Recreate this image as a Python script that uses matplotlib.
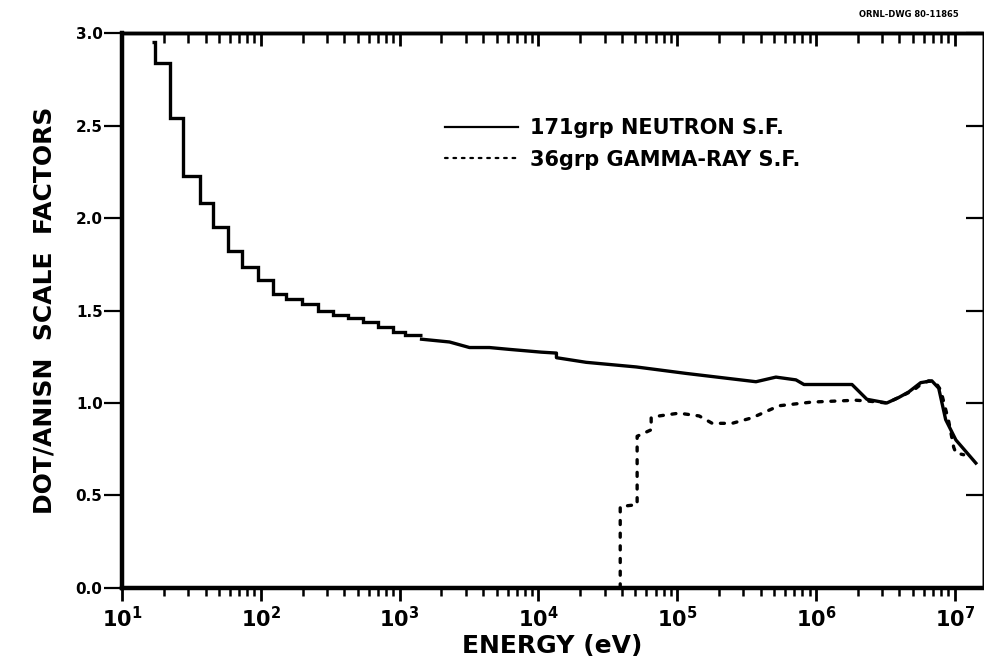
import matplotlib
matplotlib.use("Agg")
import matplotlib.pyplot as plt
from matplotlib.ticker import LogLocator, NullFormatter, FixedLocator

# ---- data ----
# 171-group neutron scale factors: step part (group edges, values)
n_step_edges = [16.4, 17.3, 22.1, 27.5, 36.4, 45.2, 57.9, 73.0, 95.1, 122, 151,
                197, 257, 330, 423, 542, 695, 891, 1087, 1440]
n_step_vals = [2.95, 2.84, 2.54, 2.23, 2.08, 1.95, 1.82, 1.735, 1.665, 1.59,
               1.56, 1.535, 1.50, 1.475, 1.46, 1.44, 1.41, 1.385, 1.37]
# neutron, fine-group part (energy, value)
n_energy = [1440, 2290, 3190, 4440, 6180, 1.05e4, 1.35e4, 1.35e4, 2.21e4, 5.07e4,
            1.16e5, 3.70e5, 5.15e5, 7.18e5, 8.20e5, 1.82e6, 2.33e6, 3.24e6,
            3.96e6, 4.67e6, 5.69e6, 6.84e6, 7.67e6, 8.61e6, 1.02e7, 1.42e7]
n_value = [1.345, 1.33, 1.30, 1.30, 1.29, 1.275, 1.27, 1.245, 1.22, 1.195,
           1.16, 1.115, 1.14, 1.125, 1.10, 1.10, 1.02, 1.0,
           1.03, 1.06, 1.11, 1.12, 1.08, 0.91, 0.80, 0.675]

# 36-group gamma-ray scale factors (energy, value)
g_energy = [3.89e4, 3.89e4, 5.15e4, 5.15e4, 6.50e4, 6.50e4, 7.43e4, 1.03e5,
            1.44e5, 1.79e5, 2.49e5, 3.47e5, 5.42e5, 9.36e5, 1.94e6, 2.40e6,
            3.24e6, 3.96e6, 5.07e6, 5.69e6, 6.50e6, 7.30e6, 7.93e6, 9.06e6,
            9.84e6, 1.02e7, 1.16e7]
g_value = [0.0, 0.44, 0.45, 0.82, 0.855, 0.92, 0.93, 0.945,
           0.93, 0.89, 0.89, 0.92, 0.985, 1.005, 1.015, 1.01,
           1.0, 1.03, 1.07, 1.10, 1.12, 1.11, 1.07, 0.90,
           0.76, 0.73, 0.72]

x_major = [1e1, 1e2, 1e3, 1e4, 1e5, 1e6, 1e7]
x_labels = [r"$\mathbf{10^{1}}$", r"$\mathbf{10^{2}}$", r"$\mathbf{10^{3}}$",
            r"$\mathbf{10^{4}}$", r"$\mathbf{10^{5}}$", r"$\mathbf{10^{6}}$",
            r"$\mathbf{10^{7}}$"]
y_major = [0.0, 0.5, 1.0, 1.5, 2.0, 2.5, 3.0]
y_labels = ["0.0", "0.5", "1.0", "1.5", "2.0", "2.5", "3.0"]

XLIM = (10, 1.6e7)
YLIM = (0, 3.0)

fig = plt.figure(figsize=(9.84, 6.65), dpi=100)
ax = fig.add_axes([0.124, 0.116, 0.875, 0.834])

ax.stairs(n_step_vals, n_step_edges, color="black", lw=2.4, baseline=None)
ax.plot(n_energy, n_value, color="black", lw=2.4, solid_joinstyle="round",
        label="171grp NEUTRON S.F.")
ax.plot(g_energy, g_value, color="black", lw=2.4, linestyle=(0, (1.2, 2.6)),
        dash_capstyle="round", label="36grp GAMMA-RAY S.F.")

ax.set_xscale("log")
ax.set_xlim(*XLIM)
ax.set_ylim(*YLIM)

ax.xaxis.set_major_locator(FixedLocator(x_major))
ax.set_xticklabels(x_labels)
ax.xaxis.set_minor_locator(LogLocator(base=10, subs=range(2, 10), numticks=20))
ax.xaxis.set_minor_formatter(NullFormatter())
ax.set_yticks(y_major)
ax.set_yticklabels(y_labels)

ax.tick_params(axis="x", which="major", direction="out", length=9, width=2,
               labelsize=15, pad=4, top=False)
ax.tick_params(axis="x", which="minor", direction="out", length=6, width=1.8,
               top=False)
ax.tick_params(axis="y", which="major", direction="out", length=13, width=1.6,
               labelsize=11, pad=1, right=False)
for t in ax.yaxis.get_ticklabels():
    t.set_fontweight("bold")

# top axis: inward ticks
axt = ax.twiny()
axt.set_xscale("log")
axt.set_xlim(*XLIM)
axt.xaxis.set_major_locator(FixedLocator(x_major))
axt.xaxis.set_minor_locator(LogLocator(base=10, subs=range(2, 10), numticks=20))
axt.xaxis.set_major_formatter(NullFormatter())
axt.xaxis.set_minor_formatter(NullFormatter())
axt.tick_params(axis="x", which="major", direction="in", length=9, width=2)
axt.tick_params(axis="x", which="minor", direction="in", length=7, width=1.8)

# right axis: inward ticks
axr = ax.twinx()
axr.set_ylim(*YLIM)
axr.set_yticks(y_major)
axr.set_yticklabels([])
axr.tick_params(axis="y", direction="in", length=12, width=1.6)

for a in (ax, axt, axr):
    a.spines["left"].set_linewidth(3.0)
    a.spines["bottom"].set_linewidth(3.0)
    a.spines["top"].set_linewidth(2.4)
    a.spines["right"].set_linewidth(1.0)

ax.set_xlabel("ENERGY (eV)", fontsize=18, fontweight="bold", labelpad=2)
ax.set_ylabel("DOT/ANISN  SCALE  FACTORS", fontsize=18, fontweight="bold",
              labelpad=14)

leg = ax.legend(loc="upper left", bbox_to_anchor=(0.375, 0.847), frameon=False,
                fontsize=15, handlelength=3.5, handletextpad=0.6,
                borderpad=0, borderaxespad=0, labelspacing=0.55)
for t in leg.get_texts():
    t.set_fontweight("bold")
for line in leg.get_lines():
    line.set_linewidth(1.6)

fig.text(0.974, 0.978, "ORNL-DWG 80-11865", fontsize=6, fontweight="bold",
         ha="right", va="center")

fig.savefig("out.png", dpi=100)
